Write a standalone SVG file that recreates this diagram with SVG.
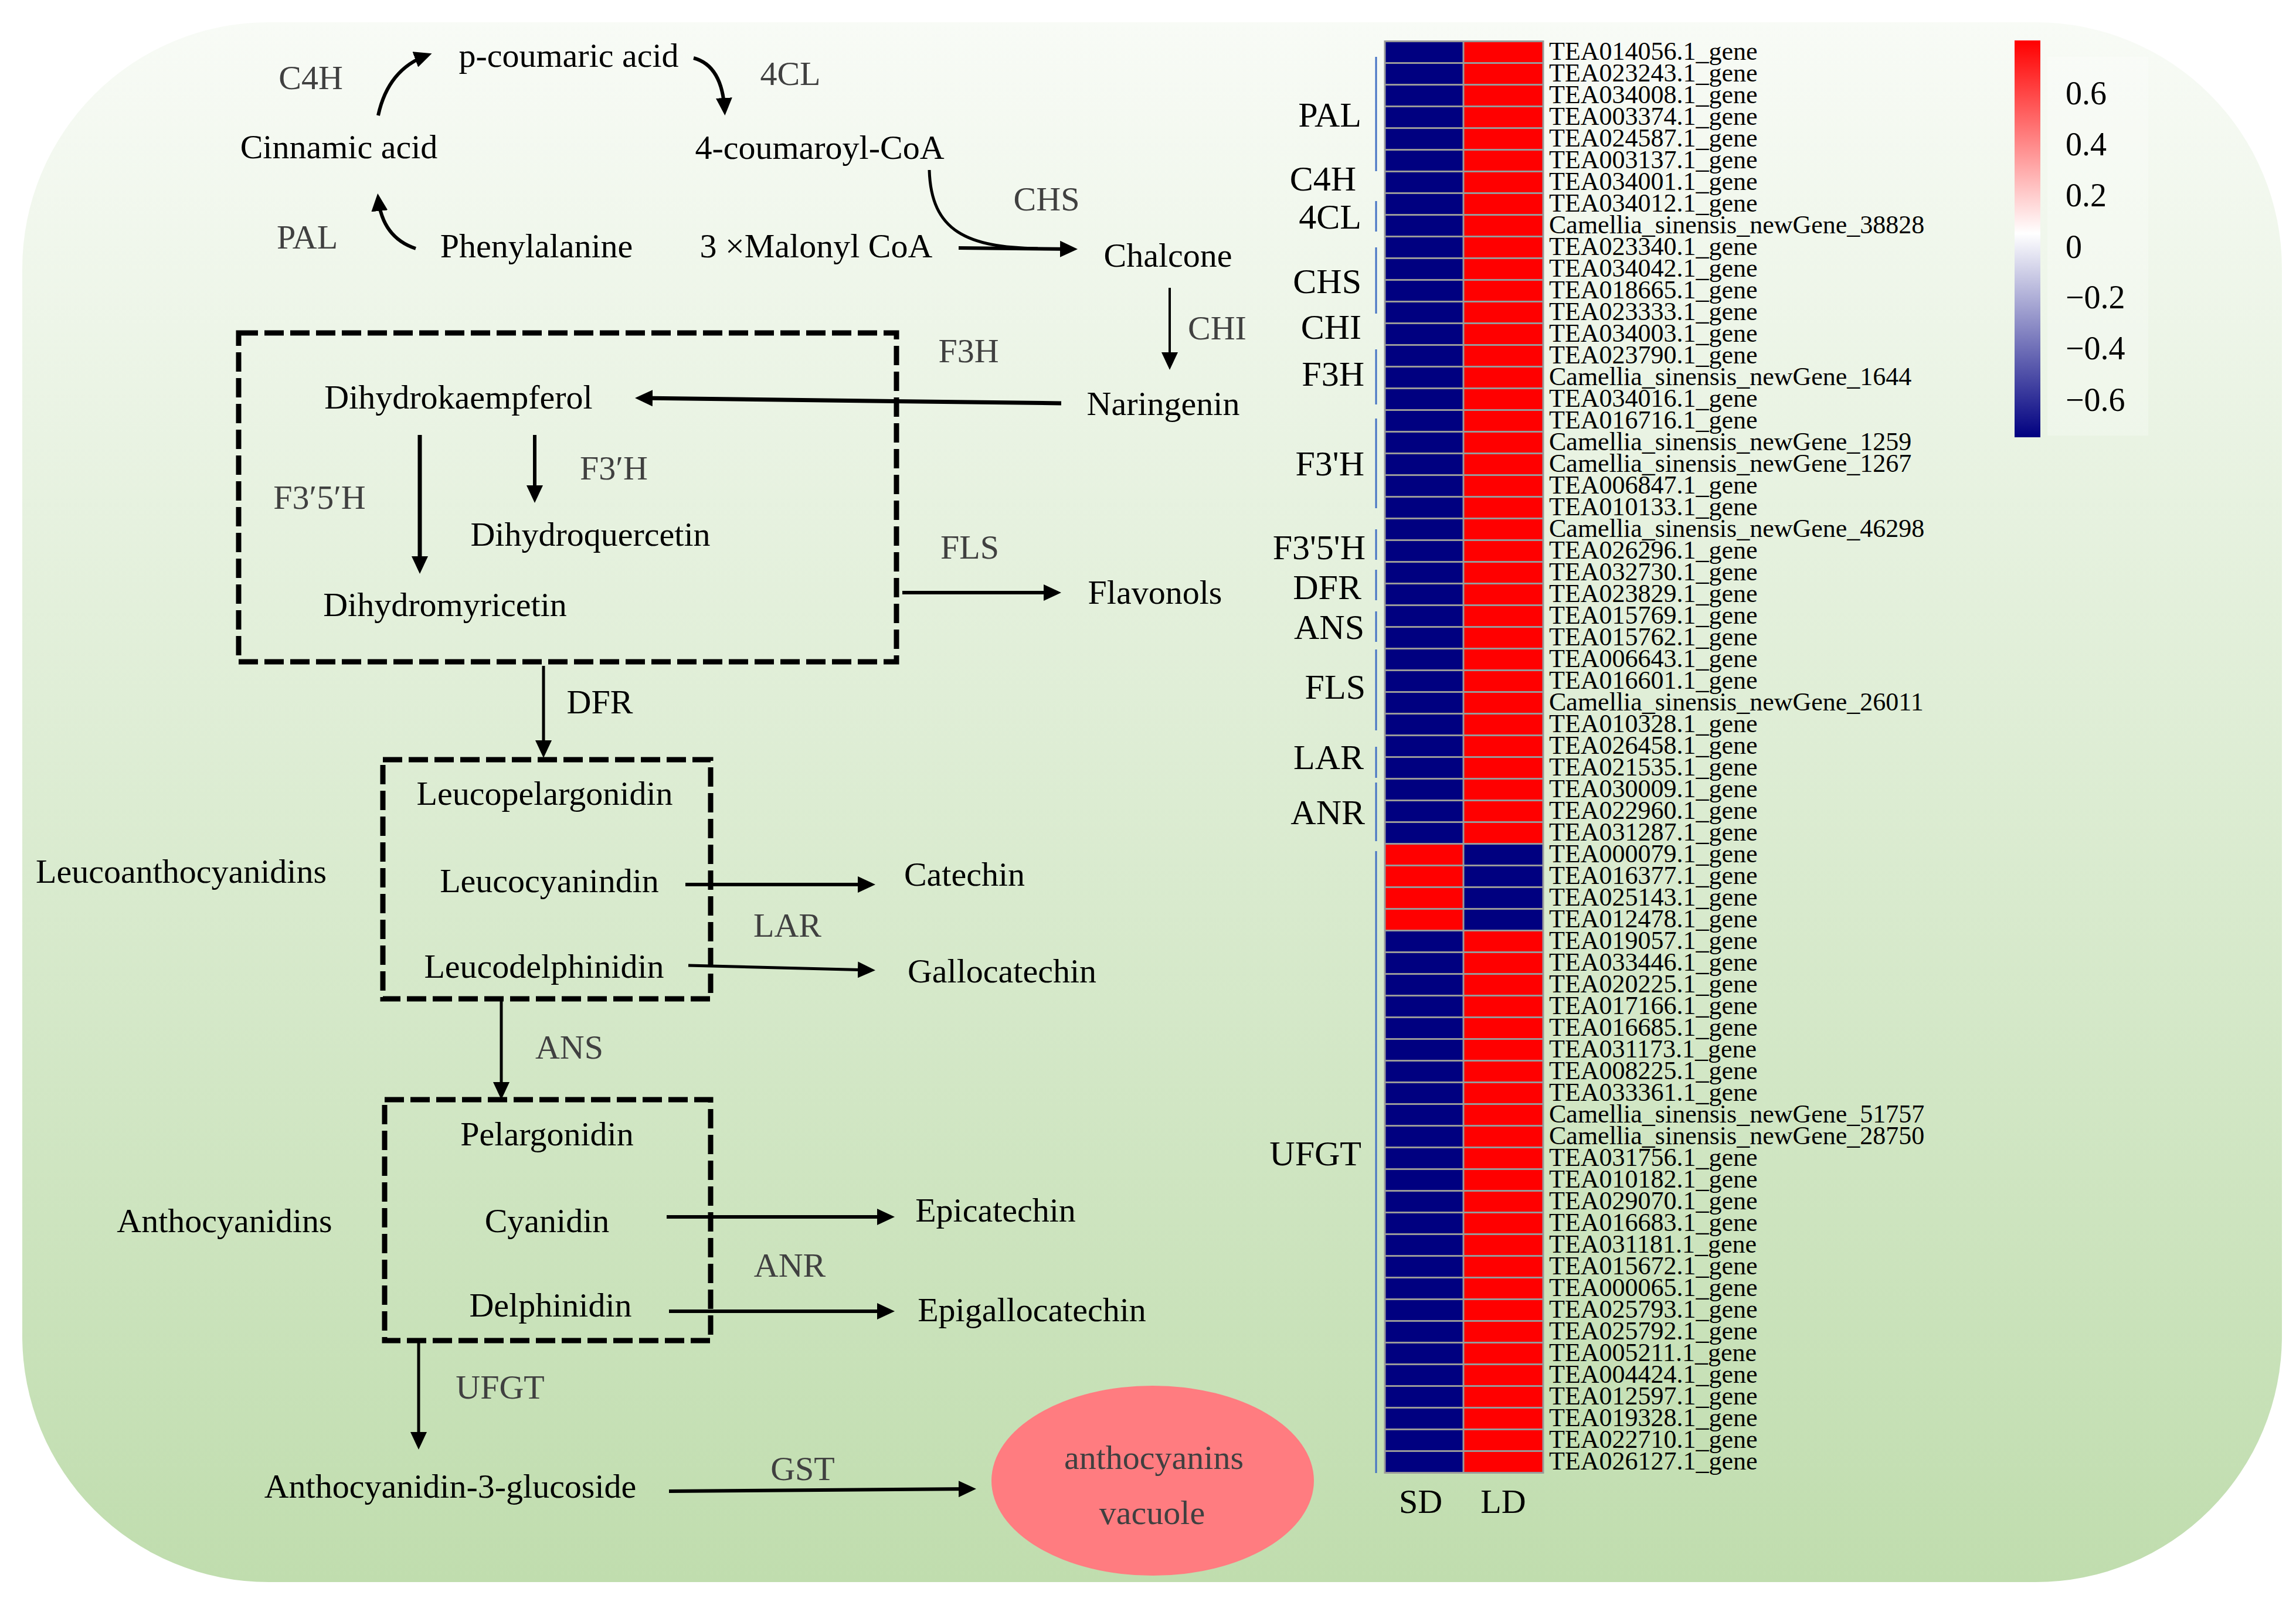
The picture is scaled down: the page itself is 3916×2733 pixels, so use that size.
<svg xmlns="http://www.w3.org/2000/svg" width="3916" height="2733" viewBox="0 0 3916 2733">
<defs>
<linearGradient id="bg" x1="0" y1="0" x2="0" y2="1">
<stop offset="0" stop-color="#f8fbf6"/>
<stop offset="1" stop-color="#c0ddae"/>
</linearGradient>
<linearGradient id="cbar" x1="0" y1="0" x2="0" y2="1">
<stop offset="0" stop-color="#ff0000"/>
<stop offset="0.486" stop-color="#ffffff"/>
<stop offset="1" stop-color="#000080"/>
</linearGradient>
<pattern id="hgrid" patternUnits="userSpaceOnUse" x="2362" y="69" width="270" height="37">
<rect x="0" y="0" width="270" height="3" fill="#999999"/>
</pattern>
<marker id="ah" viewBox="0 0 30 28" markerWidth="30" markerHeight="28" refX="22" refY="14" orient="auto" markerUnits="userSpaceOnUse">
<path d="M0,0 L30,14 L0,28 Z" fill="#000"/>
</marker>
<style>
text{font-family:"Liberation Serif","Times New Roman",serif;}
.m{font-size:58px;fill:#000;text-anchor:middle;}
.e{font-size:58px;fill:#404040;text-anchor:middle;}
.box{fill:none;stroke:#000;stroke-width:9;stroke-dasharray:33 11;}
.c{fill:none;stroke:#000;stroke-width:6;}
.ca{fill:none;stroke:#000;stroke-width:6;marker-end:url(#ah);}
.g{font-size:44px;fill:#000;}
.grp{font-size:60px;fill:#000;text-anchor:end;}
.br{stroke:#4472c4;stroke-width:3;fill:none;}
.cb{font-size:56px;fill:#000;}
</style>
</defs>

<rect x="0" y="0" width="3916" height="2733" fill="#ffffff"/>
<rect id="background" x="38" y="38" width="3854" height="2661" rx="420" ry="420" fill="url(#bg)"/>

<!-- Connectors -->
<g id="connectors">
<path class="ca" d="M645,197 Q662,118 729,94"/>
<path class="ca" d="M1183,99 Q1232,112 1236,189"/>
<path class="ca" d="M709,424 Q652,405 645,338"/>
<path class="c" style="stroke-width:5" d="M1585,290 C1588,395 1650,422 1770,424"/>
<path class="ca" d="M1635,423 L1830,425"/>
<path class="ca" style="stroke-width:4" d="M1995,491 L1995,623"/>
<path class="ca" style="stroke-width:7" d="M1810,688 L1091,679"/>
<path class="ca" style="stroke-width:7" d="M716,742 L716,971"/>
<path class="ca" d="M912,742 L912,850"/>
<path class="ca" d="M1539,1011 L1802,1011"/>
<path class="ca" style="stroke-width:5" d="M927,1136 L927,1285"/>
<path class="ca" d="M1169,1509 L1485,1509"/>
<path class="ca" style="stroke-width:5" d="M1174,1647 L1485,1655"/>
<path class="ca" style="stroke-width:5" d="M855,1704 L855,1868"/>
<path class="ca" d="M1137,2076 L1518,2076"/>
<path class="ca" d="M1141,2237 L1518,2237"/>
<path class="ca" style="stroke-width:5" d="M714,2287 L714,2465"/>
<path class="ca" d="M1141,2544 L1657,2540"/>
</g>

<!-- Dashed group boxes -->
<g id="box-dihydroflavonols"><rect class="box" x="407" y="568" width="1122" height="561"/></g>
<g id="box-leucoanthocyanidins"><rect class="box" x="653" y="1296" width="559" height="408"/></g>
<g id="box-anthocyanidins"><rect class="box" x="656" y="1876" width="556" height="411"/></g>

<!-- Metabolite nodes -->
<g id="n-pcoumaric"><text class="m" x="970" y="114">p-coumaric acid</text></g>
<g id="n-cinnamic"><text class="m" x="578" y="270">Cinnamic acid</text></g>
<g id="n-coumaroylcoa"><text class="m" x="1398" y="271">4-coumaroyl-CoA</text></g>
<g id="n-phenylalanine"><text class="m" x="915" y="439">Phenylalanine</text></g>
<g id="n-malonyl"><text class="m" x="1392" y="439">3 ×Malonyl CoA</text></g>
<g id="n-chalcone"><text class="m" x="1992" y="455">Chalcone</text></g>
<g id="n-naringenin"><text class="m" x="1984" y="708">Naringenin</text></g>
<g id="n-dihydrokaempferol"><text class="m" x="782" y="697">Dihydrokaempferol</text></g>
<g id="n-dihydroquercetin"><text class="m" x="1007" y="931">Dihydroquercetin</text></g>
<g id="n-dihydromyricetin"><text class="m" x="759" y="1051">Dihydromyricetin</text></g>
<g id="n-flavonols"><text class="m" x="1970" y="1030">Flavonols</text></g>
<g id="n-leucopelargonidin"><text class="m" x="929" y="1373">Leucopelargonidin</text></g>
<g id="n-leucoanthocyanidins"><text class="m" x="309" y="1506">Leucoanthocyanidins</text></g>
<g id="n-leucocyanindin"><text class="m" x="937" y="1522">Leucocyanindin</text></g>
<g id="n-catechin"><text class="m" x="1645" y="1511">Catechin</text></g>
<g id="n-leucodelphinidin"><text class="m" x="928" y="1668">Leucodelphinidin</text></g>
<g id="n-gallocatechin"><text class="m" x="1709" y="1676">Gallocatechin</text></g>
<g id="n-pelargonidin"><text class="m" x="933" y="1954">Pelargonidin</text></g>
<g id="n-anthocyanidins"><text class="m" x="383" y="2102">Anthocyanidins</text></g>
<g id="n-cyanidin"><text class="m" x="933" y="2102">Cyanidin</text></g>
<g id="n-epicatechin"><text class="m" x="1698" y="2084">Epicatechin</text></g>
<g id="n-delphinidin"><text class="m" x="939" y="2246">Delphinidin</text></g>
<g id="n-epigallocatechin"><text class="m" x="1760" y="2254">Epigallocatechin</text></g>
<g id="n-a3g"><text class="m" x="768" y="2555">Anthocyanidin-3-glucoside</text></g>
<g id="n-vacuole">
<ellipse cx="1966" cy="2526" rx="275" ry="162" fill="#ff7c80"/>
<text class="e" x="1968" y="2506">anthocyanins</text>
<text class="e" x="1965" y="2600">vacuole</text>
</g>

<!-- Enzyme labels -->
<g id="enzyme-labels">
<text class="e" x="530" y="152">C4H</text>
<text class="e" x="1348" y="145">4CL</text>
<text class="e" x="524" y="424">PAL</text>
<text class="e" x="1785" y="359">CHS</text>
<text class="e" x="2076" y="579">CHI</text>
<text class="e" x="1652" y="618">F3H</text>
<text class="e" x="1047" y="818">F3′H</text>
<text class="e" x="545" y="868">F3′5′H</text>
<text class="e" x="1654" y="953">FLS</text>
<text class="m" x="1023" y="1217">DFR</text>
<text class="e" x="1343" y="1598">LAR</text>
<text class="e" x="971" y="1806">ANS</text>
<text class="e" x="1347" y="2178">ANR</text>
<text class="e" x="853" y="2386">UFGT</text>
<text class="e" x="1369" y="2525">GST</text>
</g>

<!-- Heatmap -->
<g id="heatmap">
<rect x="2362" y="70.5" width="134" height="1369" fill="#000080"/>
<rect x="2362" y="1439.5" width="134" height="148" fill="#ff0000"/>
<rect x="2362" y="1587.5" width="134" height="925" fill="#000080"/>
<rect x="2496" y="70.5" width="136" height="1369" fill="#ff0000"/>
<rect x="2496" y="1439.5" width="136" height="148" fill="#000080"/>
<rect x="2496" y="1587.5" width="136" height="925" fill="#ff0000"/>
<rect x="2362" y="69" width="270" height="2445" fill="url(#hgrid)"/>
<rect x="2360.5" y="69" width="3" height="2445" fill="#999999"/>
<rect x="2494.5" y="69" width="3" height="2445" fill="#999999"/>
<rect x="2630.5" y="69" width="3" height="2445" fill="#999999"/>
</g>

<g id="heatmap-brackets">
<path class="br" d="M2347,97 V292 M2347,343 V395 M2347,422 V535 M2347,596 V690 M2347,714 V867 M2347,903 V955 M2347,972 V1024 M2347,1043 V1095 M2347,1108 V1246 M2347,1274 V1327 M2347,1335 V1435 M2347,1452 V2513"/>
</g>

<g id="heatmap-groups">
<text class="grp" x="2322" y="216">PAL</text>
<text class="grp" x="2313" y="325">C4H</text>
<text class="grp" x="2322" y="390">4CL</text>
<text class="grp" x="2322" y="500">CHS</text>
<text class="grp" x="2322" y="578">CHI</text>
<text class="grp" x="2327" y="658">F3H</text>
<text class="grp" x="2327" y="811">F3'H</text>
<text class="grp" x="2329" y="954">F3'5'H</text>
<text class="grp" x="2322" y="1022">DFR</text>
<text class="grp" x="2327" y="1090">ANS</text>
<text class="grp" x="2329" y="1192">FLS</text>
<text class="grp" x="2326" y="1312">LAR</text>
<text class="grp" x="2328" y="1406">ANR</text>
<text class="grp" x="2322" y="1988">UFGT</text>
</g>

<g id="heatmap-genes">
<text class="g" x="2642" y="101.5">
<tspan x="2642" dy="0">TEA014056.1_gene</tspan>
<tspan x="2642" dy="37">TEA023243.1_gene</tspan>
<tspan x="2642" dy="37">TEA034008.1_gene</tspan>
<tspan x="2642" dy="37">TEA003374.1_gene</tspan>
<tspan x="2642" dy="37">TEA024587.1_gene</tspan>
<tspan x="2642" dy="37">TEA003137.1_gene</tspan>
<tspan x="2642" dy="37">TEA034001.1_gene</tspan>
<tspan x="2642" dy="37">TEA034012.1_gene</tspan>
<tspan x="2642" dy="37">Camellia_sinensis_newGene_38828</tspan>
<tspan x="2642" dy="37">TEA023340.1_gene</tspan>
<tspan x="2642" dy="37">TEA034042.1_gene</tspan>
<tspan x="2642" dy="37">TEA018665.1_gene</tspan>
<tspan x="2642" dy="37">TEA023333.1_gene</tspan>
<tspan x="2642" dy="37">TEA034003.1_gene</tspan>
<tspan x="2642" dy="37">TEA023790.1_gene</tspan>
<tspan x="2642" dy="37">Camellia_sinensis_newGene_1644</tspan>
<tspan x="2642" dy="37">TEA034016.1_gene</tspan>
<tspan x="2642" dy="37">TEA016716.1_gene</tspan>
<tspan x="2642" dy="37">Camellia_sinensis_newGene_1259</tspan>
<tspan x="2642" dy="37">Camellia_sinensis_newGene_1267</tspan>
<tspan x="2642" dy="37">TEA006847.1_gene</tspan>
<tspan x="2642" dy="37">TEA010133.1_gene</tspan>
<tspan x="2642" dy="37">Camellia_sinensis_newGene_46298</tspan>
<tspan x="2642" dy="37">TEA026296.1_gene</tspan>
<tspan x="2642" dy="37">TEA032730.1_gene</tspan>
<tspan x="2642" dy="37">TEA023829.1_gene</tspan>
<tspan x="2642" dy="37">TEA015769.1_gene</tspan>
<tspan x="2642" dy="37">TEA015762.1_gene</tspan>
<tspan x="2642" dy="37">TEA006643.1_gene</tspan>
<tspan x="2642" dy="37">TEA016601.1_gene</tspan>
<tspan x="2642" dy="37">Camellia_sinensis_newGene_26011</tspan>
<tspan x="2642" dy="37">TEA010328.1_gene</tspan>
<tspan x="2642" dy="37">TEA026458.1_gene</tspan>
<tspan x="2642" dy="37">TEA021535.1_gene</tspan>
<tspan x="2642" dy="37">TEA030009.1_gene</tspan>
<tspan x="2642" dy="37">TEA022960.1_gene</tspan>
<tspan x="2642" dy="37">TEA031287.1_gene</tspan>
<tspan x="2642" dy="37">TEA000079.1_gene</tspan>
<tspan x="2642" dy="37">TEA016377.1_gene</tspan>
<tspan x="2642" dy="37">TEA025143.1_gene</tspan>
<tspan x="2642" dy="37">TEA012478.1_gene</tspan>
<tspan x="2642" dy="37">TEA019057.1_gene</tspan>
<tspan x="2642" dy="37">TEA033446.1_gene</tspan>
<tspan x="2642" dy="37">TEA020225.1_gene</tspan>
<tspan x="2642" dy="37">TEA017166.1_gene</tspan>
<tspan x="2642" dy="37">TEA016685.1_gene</tspan>
<tspan x="2642" dy="37">TEA031173.1_gene</tspan>
<tspan x="2642" dy="37">TEA008225.1_gene</tspan>
<tspan x="2642" dy="37">TEA033361.1_gene</tspan>
<tspan x="2642" dy="37">Camellia_sinensis_newGene_51757</tspan>
<tspan x="2642" dy="37">Camellia_sinensis_newGene_28750</tspan>
<tspan x="2642" dy="37">TEA031756.1_gene</tspan>
<tspan x="2642" dy="37">TEA010182.1_gene</tspan>
<tspan x="2642" dy="37">TEA029070.1_gene</tspan>
<tspan x="2642" dy="37">TEA016683.1_gene</tspan>
<tspan x="2642" dy="37">TEA031181.1_gene</tspan>
<tspan x="2642" dy="37">TEA015672.1_gene</tspan>
<tspan x="2642" dy="37">TEA000065.1_gene</tspan>
<tspan x="2642" dy="37">TEA025793.1_gene</tspan>
<tspan x="2642" dy="37">TEA025792.1_gene</tspan>
<tspan x="2642" dy="37">TEA005211.1_gene</tspan>
<tspan x="2642" dy="37">TEA004424.1_gene</tspan>
<tspan x="2642" dy="37">TEA012597.1_gene</tspan>
<tspan x="2642" dy="37">TEA019328.1_gene</tspan>
<tspan x="2642" dy="37">TEA022710.1_gene</tspan>
<tspan x="2642" dy="37">TEA026127.1_gene</tspan>
</text>
</g>

<g id="heatmap-columns">
<text class="m" x="2423" y="2581">SD</text>
<text class="m" x="2564" y="2581">LD</text>
</g>

<g id="colorbar">
<rect x="3492" y="97" width="172" height="646" fill="#ffffff" fill-opacity="0.25"/>
<rect x="3436" y="69" width="44" height="677" fill="url(#cbar)"/>
<text class="cb" x="3523" y="178">0.6</text>
<text class="cb" x="3523" y="265">0.4</text>
<text class="cb" x="3523" y="352">0.2</text>
<text class="cb" x="3523" y="440">0</text>
<text class="cb" x="3523" y="526">−0.2</text>
<text class="cb" x="3523" y="613">−0.4</text>
<text class="cb" x="3523" y="701">−0.6</text>
</g>
</svg>
